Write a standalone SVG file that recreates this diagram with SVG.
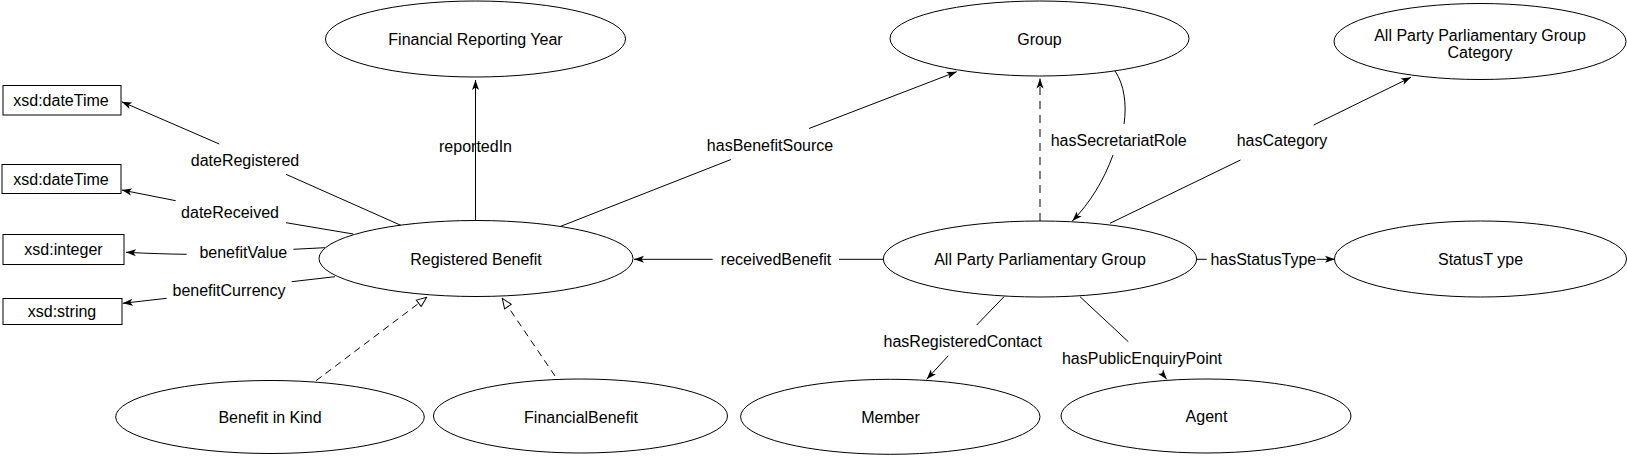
<svg xmlns="http://www.w3.org/2000/svg" width="1627" height="456" viewBox="0 0 1627 456">
<style>
  .node { fill: #ffffff; stroke: #000000; stroke-width: 1; }
  .t { font-family: "Liberation Sans", Arial, Helvetica, sans-serif; font-size: 16px; fill: #000000; text-anchor: middle; }
  .e { fill: none; stroke: #000000; stroke-width: 1; }
  .arr { marker-end: url(#block); }
  .gen { stroke-dasharray: 7 5; marker-end: url(#open); }
  .dash { stroke-dasharray: 8 6; }
</style>
<defs>
  <marker id="block" markerUnits="userSpaceOnUse" viewBox="0 0 10 8" markerWidth="10" markerHeight="8" refX="10" refY="4" orient="auto">
    <path d="M0,0.5 L10,4 L0,7.5 L2.5,4 z" fill="#000000"/>
  </marker>
  <marker id="open" markerUnits="userSpaceOnUse" viewBox="-1 -1 12 10" markerWidth="12" markerHeight="10" refX="10" refY="4" orient="auto">
    <path d="M0,0 L10,4 L0,8 z" fill="#ffffff" stroke="#000000" stroke-width="1"/>
  </marker>
</defs>

<g id="connectors">
  <!-- reportedIn -->
  <line class="e" x1="475.5" y1="221" x2="475.5" y2="128.5"/>
  <line class="e arr" x1="475.5" y1="161.5" x2="475.5" y2="80"/>
  <text class="t" x="475.5" y="151.5">reportedIn</text>
  <!-- dateRegistered -->
  <line class="e" x1="401.7" y1="225.7" x2="286" y2="174.3"/>
  <line class="e arr" x1="219.3" y1="144" x2="121.7" y2="101.7"/>
  <text class="t" x="245" y="165.5">dateRegistered</text>
  <!-- dateReceived -->
  <line class="e" x1="353.3" y1="234" x2="286" y2="222.7"/>
  <line class="e arr" x1="175.7" y1="200.7" x2="121.7" y2="190"/>
  <text class="t" x="230" y="218">dateReceived</text>
  <!-- benefitValue -->
  <line class="e" x1="325" y1="247.7" x2="293.3" y2="249.3"/>
  <path class="e arr" d="M186.7,254.3 Q160,254 126,252.3"/>
  <text class="t" x="243.3" y="258">benefitValue</text>
  <!-- benefitCurrency -->
  <line class="e" x1="335" y1="276.7" x2="291.7" y2="281.7"/>
  <line class="e arr" x1="166.7" y1="298.3" x2="122.7" y2="303.3"/>
  <text class="t" x="229" y="296">benefitCurrency</text>
  <!-- hasBenefitSource -->
  <line class="e" x1="559.7" y1="226.7" x2="731" y2="159.5"/>
  <line class="e arr" x1="809" y1="128.5" x2="956.7" y2="71.7"/>
  <text class="t" x="770" y="150.5">hasBenefitSource</text>
  <!-- hasSecretariatRole -->
  <path class="e" d="M1115,71 C1124,84 1127,104 1124,124"/>
  <path class="e arr" d="M1113,155 C1104,180 1090,203 1072.3,221"/>
  <text class="t" x="1118.7" y="145.7">hasSecretariatRole</text>
  <!-- APPG subclass of Group -->
  <line class="e arr dash" x1="1040" y1="221" x2="1040" y2="78.5"/>
  <!-- hasCategory -->
  <line class="e" x1="1110" y1="223.3" x2="1240.5" y2="160"/>
  <line class="e arr" x1="1313.7" y1="125" x2="1411" y2="77.3"/>
  <text class="t" x="1282" y="145.7">hasCategory</text>
  <!-- receivedBenefit -->
  <line class="e" x1="883.3" y1="259.3" x2="839" y2="259.3"/>
  <line class="e arr" x1="712.6" y1="259.3" x2="634" y2="259.3"/>
  <text class="t" x="776" y="265">receivedBenefit</text>
  <!-- hasStatusType -->
  <line class="e" x1="1196.7" y1="259.3" x2="1206.7" y2="259.3"/>
  <line class="e arr" x1="1316.7" y1="259.3" x2="1335" y2="259.3"/>
  <text class="t" x="1263.3" y="265">hasStatusType</text>
  <!-- hasRegisteredContact -->
  <line class="e" x1="1004" y1="296.7" x2="976.7" y2="325"/>
  <line class="e arr" x1="948.3" y1="355.7" x2="926.7" y2="379.3"/>
  <text class="t" x="962.7" y="347.4">hasRegisteredContact</text>
  <!-- hasPublicEnquiryPoint -->
  <line class="e" x1="1080" y1="296.7" x2="1128.3" y2="341.7"/>
  <line class="e arr" x1="1161.7" y1="373" x2="1166.7" y2="379.3"/>
  <text class="t" x="1142" y="363.7">hasPublicEnquiryPoint</text>
  <!-- subclass of Registered Benefit -->
  <line class="e gen" x1="316" y1="380.7" x2="426.7" y2="297.3"/>
  <line class="e gen" x1="555" y1="376" x2="502.3" y2="298.3"/>
</g>

<g id="node-financial-reporting-year">
  <ellipse class="node" cx="475.5" cy="39" rx="150" ry="38"/>
  <text class="t" x="475.5" y="45">Financial Reporting Year</text>
</g>
<g id="node-group">
  <ellipse class="node" cx="1039.5" cy="38.5" rx="149.5" ry="37.5"/>
  <text class="t" x="1039.5" y="45">Group</text>
</g>
<g id="node-appg-category">
  <ellipse class="node" cx="1480" cy="41.5" rx="146" ry="38"/>
  <text class="t" x="1480" y="40.5">All Party Parliamentary Group</text>
  <text class="t" x="1480" y="58">Category</text>
</g>
<g id="node-registered-benefit">
  <ellipse class="node" cx="476" cy="258.5" rx="157" ry="38"/>
  <text class="t" x="476" y="265">Registered Benefit</text>
</g>
<g id="node-appg">
  <ellipse class="node" cx="1040" cy="259" rx="156.7" ry="38"/>
  <text class="t" x="1040" y="265">All Party Parliamentary Group</text>
</g>
<g id="node-status-type">
  <ellipse class="node" cx="1480.5" cy="259" rx="146" ry="38"/>
  <text class="t" x="1480.5" y="265">StatusT ype</text>
</g>
<g id="node-benefit-in-kind">
  <ellipse class="node" cx="270" cy="417" rx="154.3" ry="36.5"/>
  <text class="t" x="270" y="423">Benefit in Kind</text>
</g>
<g id="node-financial-benefit">
  <ellipse class="node" cx="580.5" cy="416" rx="147" ry="37"/>
  <text class="t" x="581" y="423">FinancialBenefit</text>
</g>
<g id="node-member">
  <ellipse class="node" cx="890.3" cy="416.8" rx="149.7" ry="37.5"/>
  <text class="t" x="890.5" y="423">Member</text>
</g>
<g id="node-agent">
  <ellipse class="node" cx="1206" cy="416" rx="145" ry="37"/>
  <text class="t" x="1206.5" y="422">Agent</text>
</g>
<g id="node-xsd-datetime-1">
  <rect class="node" x="3" y="85.5" width="118" height="29.5"/>
  <text class="t" x="61" y="106">xsd:dateTime</text>
</g>
<g id="node-xsd-datetime-2">
  <rect class="node" x="2" y="164.5" width="119" height="29"/>
  <text class="t" x="61" y="184.5">xsd:dateTime</text>
</g>
<g id="node-xsd-integer">
  <rect class="node" x="3" y="234.5" width="121" height="30"/>
  <text class="t" x="63.5" y="255">xsd:integer</text>
</g>
<g id="node-xsd-string">
  <rect class="node" x="3" y="298.5" width="119" height="26"/>
  <text class="t" x="62" y="317">xsd:string</text>
</g>
</svg>
